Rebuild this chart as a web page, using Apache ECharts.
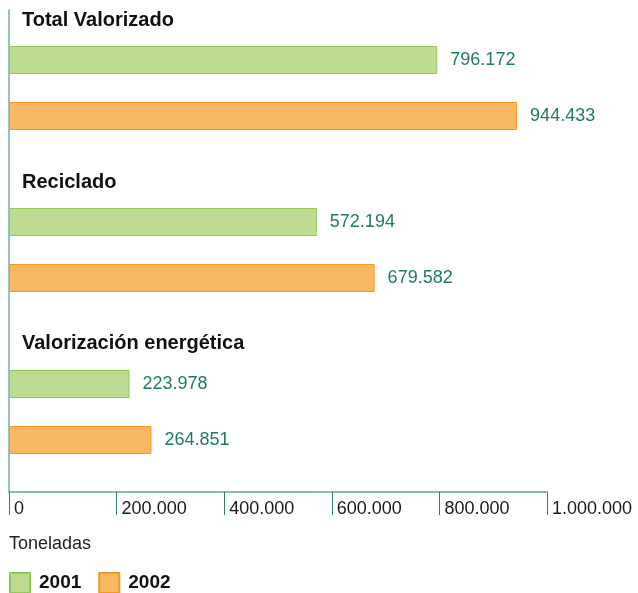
<!DOCTYPE html>
<html>
<head>
<meta charset="utf-8">
<script src="https://cdn.jsdelivr.net/npm/echarts@6.0.0/dist/echarts.min.js"></script>
<style>
  html, body { margin: 0; padding: 0; background: #fff; }
  #chart { width: 638px; height: 593px; }
</style>
</head>
<body>
<div id="chart"></div>
<script>
// datos (toneladas)
const groups = ['Total Valorizado', 'Reciclado', 'Valorización energética']
const years = ['2001', '2002']
const values2001 = [796172, 572194, 223978]
const values2002 = [944433, 679582, 264851]
const xTicks = [0, 200000, 400000, 600000, 800000, 1000000]
const unitLabel = 'Toneladas'

const FONT = '"Liberation Sans", Arial, Helvetica, sans-serif'
const TEAL = '#1f7a63'
const colors = {
  '2001': { fill: '#bddc91', border: '#94c95a' },
  '2002': { fill: '#f9b862', border: '#f5981f' }
}

// 796172 -> "796.172"
const fmt = v => String(v).replace(/\B(?=(\d{3})+(?!\d))/g, '.')

const xMin = xTicks[0]
const xMax = xTicks[xTicks.length - 1]
const step = xTicks[1] - xTicks[0]

const left = 9, right = 91
const groupTops = [32, 194, 356]
const titleTops = [10, 172, 333]

const grids = [], xAxes = [], yAxes = [], series = [], titles = []

groups.forEach((g, i) => {
  grids.push({ left, right, top: groupTops[i], height: 112 })
  xAxes.push({ gridIndex: i, type: 'value', min: xMin, max: xMax, show: false })
  yAxes.push({ gridIndex: i, type: 'category', data: years, inverse: true, show: false })
  titles.push({
    text: g, left: 22, top: titleTops[i], padding: 0,
    textStyle: { fontFamily: FONT, fontSize: 20, fontWeight: 'bold', color: '#111' }
  })
  const vals = [values2001[i], values2002[i]]
  years.forEach((y, k) => {
    series.push({
      name: y,
      type: 'bar',
      xAxisIndex: i,
      yAxisIndex: i,
      stack: 'g' + i,
      barWidth: 28,
      data: years.map((_, j) => (j === k ? vals[k] : null)),
      itemStyle: { color: colors[y].fill, borderColor: colors[y].border, borderWidth: 1 },
      label: {
        show: true,
        position: 'right',
        distance: 13,
        fontFamily: FONT,
        fontSize: 18,
        color: TEAL,
        formatter: p => (p.value == null ? '' : fmt(p.value))
      },
      emphasis: { disabled: true },
      animation: false
    })
  })
})

// eje visible (abajo + línea izquierda)
grids.push({ left, right, top: 10, bottom: 101 })
xAxes.push({
  gridIndex: 3, type: 'value', min: xMin, max: xMax, interval: step,
  axisLine: { show: true, lineStyle: { color: '#5aa897', width: 1.5 } },
  axisTick: { show: true, length: 23, lineStyle: { color: '#2f7f6a', width: 1 } },
  axisLabel: {
    align: 'left', margin: 8, padding: [0, 0, 0, 5],
    fontFamily: FONT, fontSize: 18, color: '#1a1a1a',
    formatter: v => fmt(v)
  },
  splitLine: { show: false }
})
yAxes.push({
  gridIndex: 3, type: 'value', min: 0, max: 1,
  axisLine: { show: true, lineStyle: { color: '#6fb3a3', width: 1.5 } },
  axisTick: { show: false }, axisLabel: { show: false }, splitLine: { show: false }
})

titles.push({
  text: unitLabel, left: 9, top: 535, padding: 0,
  textStyle: { fontFamily: FONT, fontSize: 18, fontWeight: 'normal', color: '#222' }
})

const chart = echarts.init(document.getElementById('chart'))
chart.setOption({
  animation: false,
  title: titles,
  grid: grids,
  xAxis: xAxes,
  yAxis: yAxes,
  legend: {
    data: years,
    left: 9,
    top: 572,
    padding: 0,
    icon: 'rect',
    itemWidth: 20,
    itemHeight: 20,
    itemGap: 17,
    selectedMode: false,
    textStyle: { fontFamily: FONT, fontSize: 19, fontWeight: 'bold', color: '#111', padding: [0, 0, 0, 4] }
  },
  series
})
</script>
</body>
</html>
